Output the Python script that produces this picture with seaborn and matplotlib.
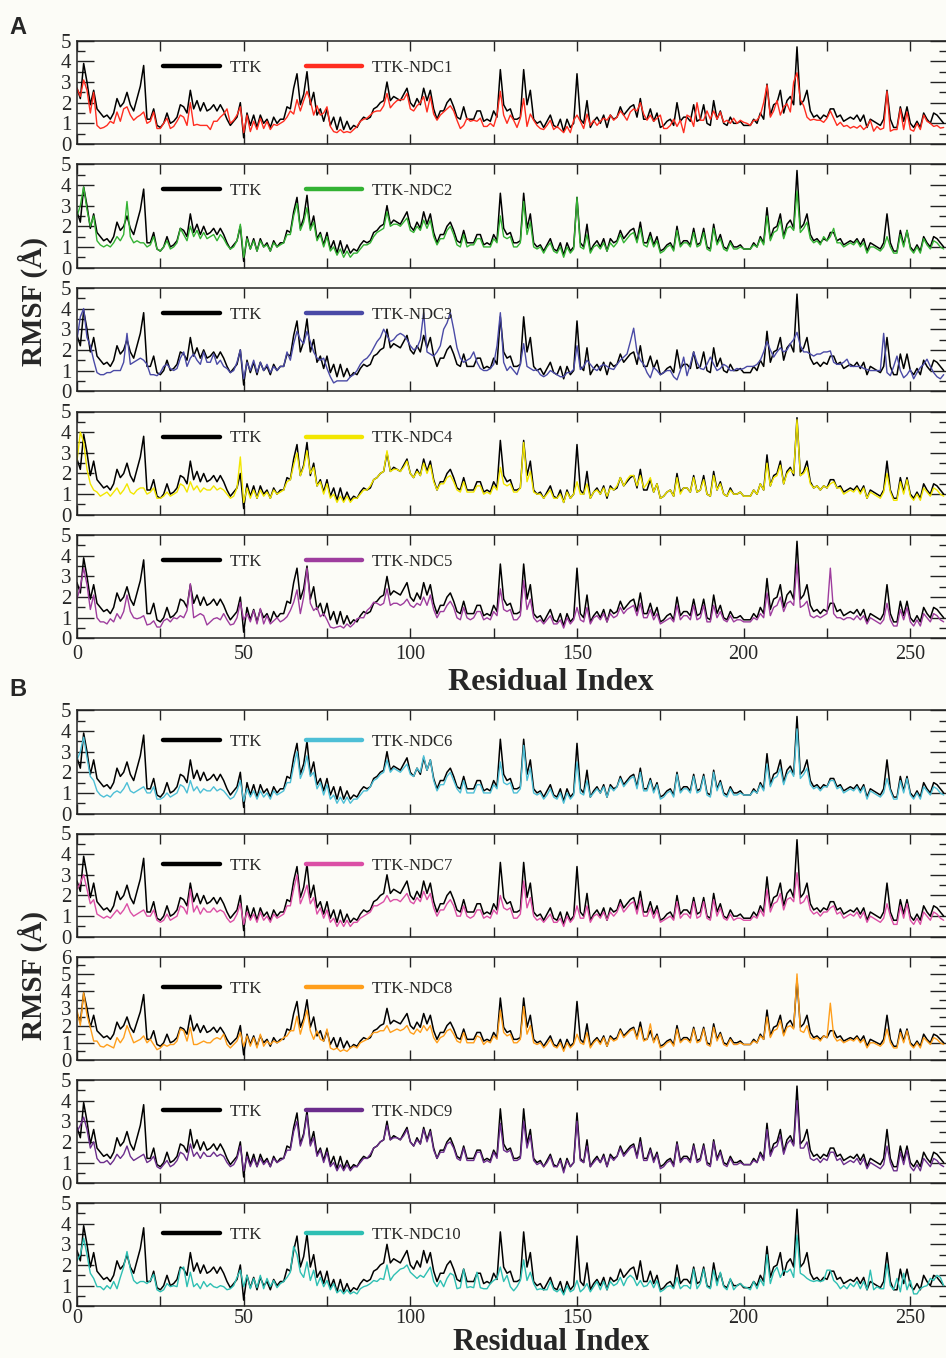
import numpy as np
import matplotlib
matplotlib.use('Agg')
import matplotlib.pyplot as plt
from matplotlib.ticker import MultipleLocator
from matplotlib.lines import Line2D
import seaborn as sns

# RMSF (Angstrom) per residue
ttk = [
    2.7, 2.2, 3.9, 3.0, 1.9, 2.6, 1.7, 1.5, 1.3, 1.4,
    1.2, 1.5, 2.2, 1.8, 2.0, 2.5, 1.9, 1.6, 2.2, 2.8,
    3.8, 1.2, 1.2, 1.7, 0.9, 0.8, 1.0, 1.5, 1.0, 1.1,
    1.3, 1.9, 1.8, 1.5, 2.6, 1.7, 2.1, 1.6, 2.0, 1.6,
    1.7, 1.9, 1.6, 1.9, 1.6, 1.2, 0.9, 1.1, 1.3, 2.0,
    0.3, 1.5, 0.9, 1.4, 0.8, 1.4, 1.0, 1.2, 0.8, 1.3,
    1.0, 1.2, 1.2, 1.8, 1.7, 2.7, 3.4, 1.9, 2.4, 3.5,
    1.9, 2.5, 1.4, 1.7, 1.1, 1.7, 0.9, 1.3, 0.7, 1.3,
    0.7, 1.1, 0.7, 0.9, 0.8, 1.1, 1.3, 1.2, 1.3, 1.7,
    1.8, 2.0, 2.1, 3.0, 2.1, 2.3, 2.2, 2.1, 2.4, 2.7,
    2.0, 1.8, 2.2, 1.9, 2.7, 2.1, 2.6, 1.7, 1.2, 1.6,
    1.6, 2.0, 2.2, 1.8, 1.3, 1.2, 1.8, 1.2, 1.2, 1.2,
    1.6, 1.6, 1.1, 1.2, 1.1, 1.6, 1.3, 3.6, 1.9, 1.6,
    1.7, 1.2, 1.2, 1.3, 3.6, 1.9, 2.6, 1.2, 1.0, 1.1,
    0.8, 1.1, 1.4, 0.9, 0.8, 1.2, 0.6, 1.2, 0.8, 1.0,
    3.4, 1.2, 1.0, 2.1, 0.8, 1.1, 1.3, 1.0, 1.4, 0.8,
    1.4, 1.2, 1.3, 1.8, 1.4, 1.6, 1.8, 1.9, 1.3, 2.2,
    1.2, 1.2, 1.7, 1.1, 1.5, 0.8, 0.9, 1.1, 1.2, 0.9,
    2.0, 1.1, 1.3, 1.3, 1.1, 1.9, 1.1, 1.2, 1.9, 1.0,
    0.9, 2.1, 1.2, 1.6, 1.0, 0.9, 1.3, 1.0, 1.0, 1.1,
    0.9, 0.9, 0.9, 1.2, 1.0, 1.5, 1.2, 2.9, 1.4, 1.9,
    2.0, 2.6, 1.5, 2.1, 2.3, 1.9, 4.7, 1.9, 2.1, 2.6,
    1.6, 1.3, 1.4, 1.2, 1.4, 1.3, 1.7, 1.7, 1.3, 1.4,
    1.1, 1.2, 1.3, 1.2, 1.4, 1.1, 1.4, 0.8, 1.2, 1.1,
    1.0, 0.9, 1.2, 2.6, 1.2, 0.8, 0.8, 1.8, 1.1, 1.8,
    1.0, 0.8, 1.1, 0.8, 1.5, 1.2, 1.0, 1.5, 1.4, 1.2, 1.0,
]

ndc1 = [
    2.7, 2.3, 3.1, 2.6, 1.5, 2.5, 0.9, 0.75, 0.8, 0.9,
    1.1, 1.0, 1.55, 1.1, 1.7, 1.8, 1.4, 1.15, 1.3, 1.4,
    1.55, 1.0, 1.1, 1.55, 0.75, 0.75, 1.0, 1.25, 0.75, 0.85,
    1.1, 1.4, 1.3, 0.9, 2.0, 0.9, 0.95, 0.9, 0.9, 0.9,
    0.7, 1.1, 1.1, 1.3, 1.45, 1.7, 1.0, 1.15, 1.4, 1.8,
    0.55, 1.4, 0.6, 1.1, 0.7, 1.25, 0.75, 1.1, 0.7, 0.95,
    0.9, 1.0, 1.1, 1.3, 1.6, 1.45, 2.15, 1.6, 2.1, 2.55,
    2.1, 1.4, 1.85, 1.4, 1.5, 1.8, 0.85, 0.6, 0.55, 0.7,
    0.55, 0.6, 0.55, 0.7, 0.85, 1.1, 1.2, 1.25, 1.4, 1.55,
    1.6, 1.6, 1.85, 2.45, 1.75, 1.95, 2.1, 2.15, 2.15, 2.45,
    1.7, 1.6, 1.85, 2.0, 2.3, 1.55, 2.3, 1.45, 1.15, 1.4,
    1.55, 1.7, 1.85, 1.6, 1.15, 0.75, 0.9, 1.25, 1.1, 1.15,
    1.1, 1.25, 0.85, 0.85, 1.0, 0.85, 1.4, 2.55, 1.4, 1.0,
    1.4, 1.15, 0.8, 1.25, 2.2, 0.85, 1.45, 1.15, 0.9, 0.75,
    0.7, 0.9, 1.15, 0.7, 0.85, 0.7, 0.55, 0.85, 0.55, 1.15,
    1.4, 1.1, 0.75, 1.45, 0.9, 1.15, 0.9, 1.1, 1.25, 1.15,
    1.4, 1.15, 1.3, 1.6, 1.4, 1.15, 1.55, 1.7, 1.6, 2.0,
    1.45, 1.15, 1.4, 1.1, 1.25, 1.4, 0.75, 0.75, 0.9, 1.2,
    0.85, 1.15, 0.55, 1.4, 1.3, 0.85, 2.0, 1.15, 1.15, 1.6,
    1.2, 1.6, 1.2, 1.55, 1.05, 1.15, 1.0, 1.25, 1.0, 1.15,
    1.05, 1.0, 0.9, 1.15, 1.15, 1.4, 2.0, 2.85, 1.3, 1.6,
    2.1, 1.4, 1.8, 1.95, 1.55, 3.0, 3.45, 2.15, 1.85, 1.3,
    1.15, 1.2, 1.15, 1.15, 1.05, 1.25, 1.6, 1.25, 0.9, 1.05,
    0.85, 0.9, 0.77, 0.85, 0.77, 0.9, 0.7, 0.85, 1.15, 0.62,
    0.85, 0.7, 0.77, 2.55, 0.62, 0.7, 0.7, 1.7, 0.7, 1.55,
    0.7, 0.62, 1.0, 0.7, 1.4, 1.1, 1.0, 0.85, 0.9, 0.77, 0.8,
]

ndc2 = [
    2.5, 3.0, 3.9, 2.8, 2.0, 2.5, 1.3, 1.1, 1.0, 1.1,
    1.0, 1.2, 1.5, 1.3, 1.6, 3.2, 1.5, 1.2, 1.3, 1.2,
    1.2, 1.0, 1.1, 1.5, 0.9, 0.8, 1.0, 1.3, 0.9, 1.0,
    1.2, 1.9, 1.6, 1.3, 2.0, 1.5, 1.8, 1.4, 1.7, 1.4,
    1.5, 1.6, 1.3, 1.6, 1.4, 1.1, 0.9, 1.0, 1.3, 2.1,
    0.5, 1.4, 0.9, 1.3, 0.8, 1.3, 1.0, 1.1, 0.8, 1.2,
    1.0, 1.1, 1.2, 1.6, 1.6, 2.5, 3.1, 1.8, 2.2, 2.9,
    1.8, 2.2, 1.3, 1.6, 1.0, 1.5, 0.8, 1.0, 0.6, 0.9,
    0.5, 0.8, 0.5, 0.7, 0.7, 0.9, 1.1, 1.1, 1.2, 1.5,
    1.7, 1.8, 1.9, 2.7, 2.0, 2.1, 2.1, 2.0, 2.2, 2.4,
    1.8, 1.7, 2.0, 1.8, 2.3, 1.9, 2.3, 1.5, 1.1, 1.4,
    1.4, 1.8, 2.0, 1.6, 1.1, 1.0, 1.6, 1.0, 1.1, 1.1,
    1.4, 1.4, 1.0, 1.0, 1.0, 1.4, 1.2, 2.5, 1.5, 1.4,
    1.5, 1.0, 1.0, 1.2, 3.2, 1.6, 2.2, 1.0, 0.9, 1.0,
    0.7, 1.0, 1.2, 0.8, 0.7, 1.0, 0.5, 1.0, 0.7, 0.9,
    3.4, 1.0, 0.9, 1.6, 0.7, 1.0, 1.1, 0.9, 1.2, 0.8,
    1.2, 1.0, 1.2, 1.6, 1.2, 1.4, 1.6, 1.7, 1.2, 1.9,
    1.1, 1.0, 1.5, 1.0, 1.3, 0.7, 0.8, 1.0, 1.1, 0.8,
    1.8, 1.0, 1.2, 1.2, 1.0, 1.7, 1.0, 1.1, 1.7, 0.9,
    0.8, 1.9, 1.1, 1.4, 0.9, 0.8, 1.2, 0.9, 0.9, 1.0,
    0.9, 0.9, 0.9, 1.1, 1.0, 1.4, 1.1, 2.5, 1.3, 1.7,
    1.8, 2.3, 1.4, 1.9, 2.0, 1.8, 3.7, 1.7, 1.9, 2.2,
    1.4, 1.2, 1.3, 1.1, 1.5, 1.3, 1.5, 1.9, 1.2, 1.2,
    1.0, 1.1, 1.2, 1.1, 1.3, 1.0, 1.2, 0.7, 1.0, 1.0,
    0.9, 0.8, 1.0, 1.5, 1.0, 0.7, 0.7, 1.6, 1.0, 1.8,
    0.9, 0.7, 1.0, 0.7, 1.4, 1.1, 0.9, 1.3, 1.2, 1.0, 0.9,
]

ndc3 = [
    2.5, 3.6, 4.0, 2.6, 2.2, 1.5, 0.9, 0.8, 0.8, 0.9,
    0.9, 1.0, 1.0, 1.0, 1.4, 2.8, 1.3, 1.4, 1.5, 1.6,
    1.5, 1.3, 0.8, 0.8, 0.75, 0.9, 1.2, 1.3, 1.1, 1.0,
    1.1, 1.6, 1.9, 1.2, 1.6, 1.8, 1.5, 1.3, 1.9, 1.4,
    1.4, 1.8, 1.3, 1.5, 1.2, 1.1, 0.9, 1.0, 1.4, 2.0,
    0.6, 1.4, 1.0, 1.5, 0.9, 1.4, 1.0, 1.3, 0.9, 1.2,
    1.0, 1.2, 1.2, 1.9, 1.5, 2.3, 2.9, 2.5, 2.3, 2.9,
    2.4, 1.9, 1.6, 1.5, 1.6, 1.1, 0.7, 0.4, 0.5, 0.5,
    0.5, 0.5, 0.7, 0.8, 1.0, 1.3, 1.5, 1.6, 1.8, 2.1,
    2.4, 2.6, 3.0, 2.7, 2.4, 2.5, 2.7, 2.8, 2.7, 2.5,
    2.2, 2.0, 2.1, 2.5, 3.8, 1.9, 1.8, 1.7, 1.9, 2.2,
    3.0, 3.3, 3.8, 3.0, 2.1, 1.6, 1.4, 1.5, 1.6, 1.9,
    1.4, 1.1, 1.0, 1.0, 1.1, 1.3, 2.2, 3.8, 1.4, 1.0,
    1.2, 1.0, 0.8, 1.3, 2.3, 1.2, 1.1, 1.0, 1.05, 0.8,
    0.7, 0.8, 1.0, 0.9, 0.8, 0.7, 0.7, 0.9, 0.9, 1.05,
    2.2, 1.05, 1.2, 1.5, 1.3, 1.1, 1.0, 1.2, 1.3, 1.2,
    1.1, 1.05, 1.3, 1.5, 1.65, 1.8, 2.4, 3.05, 1.9, 1.5,
    1.3, 0.9, 0.65, 1.15, 1.0, 0.8, 0.9, 1.0, 1.0, 0.7,
    0.55, 1.0, 1.65, 0.75, 1.3, 1.9, 1.4, 1.1, 1.05, 1.3,
    1.65, 1.3, 1.0, 1.1, 1.3, 1.2, 1.0, 1.0, 1.1, 1.05,
    1.1, 1.2, 1.2, 1.2, 1.3, 1.5, 1.9, 2.4, 2.0, 1.65,
    1.9, 2.1, 1.9, 2.0, 2.3, 2.5, 2.85, 2.2, 1.9, 1.9,
    1.8, 1.7, 1.8, 1.8, 1.9, 1.9, 1.95, 1.4, 1.3, 1.3,
    1.4, 1.55, 1.2, 1.2, 1.2, 1.2, 1.1, 1.05, 1.0, 1.0,
    1.0, 1.0, 2.8, 0.9, 0.75, 1.2, 1.7, 1.0, 0.65, 0.8,
    1.05, 0.6, 0.9, 1.15, 1.3, 1.55, 1.2, 0.9, 0.7, 0.6, 0.8,
]

ndc4 = [
    2.6, 4.0, 3.5, 2.2, 1.5, 1.2, 1.1, 0.9, 1.0, 1.1,
    0.9, 1.1, 1.3, 1.0, 1.2, 1.5, 1.1, 1.0, 1.2, 1.3,
    1.3, 1.0, 1.1, 1.3, 0.8, 0.8, 0.9, 1.1, 0.9, 1.0,
    1.1, 1.5, 1.4, 1.1, 1.6, 1.2, 1.4, 1.1, 1.3, 1.2,
    1.2, 1.4, 1.2, 1.3, 1.2, 1.0, 0.8, 0.9, 1.3, 2.8,
    0.6, 1.3, 0.8, 1.2, 0.8, 1.2, 0.9, 1.1, 0.8, 1.2,
    1.0, 1.1, 1.2, 1.6, 1.7, 2.4, 3.0, 1.9, 2.3, 3.1,
    2.0, 2.3, 1.4, 1.6, 1.0, 1.5, 0.8, 1.0, 0.6, 0.9,
    0.6, 0.9, 0.6, 0.8, 0.8, 1.0, 1.2, 1.2, 1.4, 1.7,
    1.8, 2.0, 2.1, 3.1, 2.1, 2.2, 2.2, 2.1, 2.3, 2.6,
    2.0, 1.8, 2.1, 1.9, 2.5, 2.0, 2.4, 1.6, 1.2, 1.5,
    1.5, 1.8, 1.9, 1.6, 1.2, 1.1, 1.6, 1.1, 1.1, 1.1,
    1.4, 1.4, 1.0, 1.1, 1.0, 1.4, 1.2, 2.3, 1.5, 1.4,
    1.5, 1.1, 1.1, 1.3, 3.5, 1.6, 2.1, 1.1, 1.0, 1.0,
    0.8, 1.0, 1.2, 0.8, 0.8, 1.0, 0.6, 1.1, 0.8, 1.0,
    1.6, 1.0, 1.0, 1.5, 0.8, 1.1, 1.2, 1.0, 1.3, 0.9,
    1.3, 1.2, 1.4, 1.8, 1.4, 1.7, 1.9, 1.9, 1.4, 1.9,
    1.3, 1.5, 1.8, 1.1, 1.5, 0.8, 0.9, 1.1, 1.2, 0.9,
    1.8, 1.0, 1.3, 1.3, 1.1, 1.8, 1.1, 1.2, 1.7, 1.0,
    0.9, 1.9, 1.2, 1.5, 1.0, 0.9, 1.2, 1.0, 1.0, 1.1,
    0.9, 0.9, 0.9, 1.2, 1.0, 1.5, 1.2, 2.5, 1.4, 1.8,
    1.9, 2.4, 1.5, 2.0, 2.2, 2.0, 4.6, 1.9, 2.0, 2.3,
    1.5, 1.3, 1.4, 1.2, 1.4, 1.3, 1.5, 1.6, 1.3, 1.3,
    1.0, 1.1, 1.2, 1.1, 1.3, 1.0, 1.3, 0.8, 1.1, 1.0,
    0.9, 0.8, 1.1, 2.0, 1.1, 0.7, 0.7, 1.6, 1.0, 1.7,
    0.9, 0.7, 1.0, 0.7, 1.3, 1.1, 0.9, 1.3, 1.2, 1.0, 0.9,
]

ndc5 = [
    1.9, 2.5, 3.4, 2.6, 1.4, 2.1, 1.0, 0.8, 0.8, 0.7,
    0.95, 0.8, 1.2, 0.95, 1.3, 2.1, 1.3, 1.0, 0.95, 1.0,
    1.1, 0.65, 0.7, 0.85, 0.55, 0.55, 0.85, 0.95, 0.8, 1.0,
    0.95, 1.1, 1.0, 1.35, 2.65, 1.0, 1.1, 1.2, 1.1, 0.65,
    0.8, 0.95, 1.0, 0.9, 1.2, 0.9, 0.65, 0.7, 1.0, 1.75,
    0.9, 1.2, 0.8, 1.35, 0.7, 1.45, 0.7, 1.1, 0.7, 0.85,
    1.0, 0.8, 0.9, 1.05, 1.35, 1.75, 2.35, 1.2, 2.0, 3.4,
    1.7, 1.35, 1.5, 1.05, 1.2, 0.9, 0.55, 0.5, 0.55, 0.6,
    0.5, 0.7, 0.55, 0.7, 0.95, 1.0, 1.0, 1.35, 1.5, 1.75,
    1.7, 1.6, 1.7, 2.4, 1.6, 1.7, 1.7, 1.6, 1.7, 1.9,
    1.6, 1.5, 1.7, 1.6, 2.0, 1.6, 2.1, 1.4, 1.0, 1.3,
    1.3, 1.6, 1.8, 1.5, 1.0, 0.9, 1.5, 1.0, 0.9, 1.0,
    1.3, 1.3, 0.9, 1.0, 0.9, 1.3, 1.1, 2.4, 1.4, 1.3,
    1.4, 0.9, 0.9, 1.1, 2.8, 1.4, 1.9, 1.0, 0.8, 0.9,
    0.7, 0.9, 1.1, 0.7, 0.7, 0.9, 0.5, 1.0, 0.7, 0.9,
    1.5, 0.9, 0.8, 1.5, 0.7, 1.0, 1.1, 0.9, 1.2, 0.8,
    1.2, 1.0, 1.1, 1.5, 1.2, 1.4, 1.5, 1.6, 1.1, 1.7,
    1.0, 1.0, 1.4, 0.9, 1.2, 0.7, 0.8, 0.9, 1.0, 0.8,
    1.6, 0.9, 1.1, 1.1, 0.9, 1.6, 0.9, 1.0, 1.6, 0.8,
    0.8, 1.6, 1.0, 1.3, 0.9, 0.8, 1.1, 0.8, 0.9, 0.9,
    0.8, 0.8, 0.8, 1.0, 0.9, 1.2, 1.0, 2.2, 1.1, 1.5,
    1.6, 2.0, 1.3, 1.7, 1.8, 1.6, 3.6, 1.5, 1.6, 1.8,
    1.1, 1.0, 1.1, 1.0, 1.1, 1.2, 3.4, 1.2, 1.0, 1.0,
    0.9, 1.0, 1.0, 0.9, 1.1, 0.9, 1.1, 0.7, 1.0, 0.9,
    0.8, 0.7, 0.9, 1.7, 0.9, 0.6, 0.6, 1.4, 0.9, 1.5,
    0.8, 0.6, 0.9, 0.6, 1.2, 1.0, 0.8, 1.2, 1.1, 0.9, 0.8,
]

ndc6 = [
    2.6, 3.0, 3.7, 2.7, 1.8, 1.6, 1.1, 0.9, 0.8, 0.9,
    0.8, 1.0, 1.1, 1.0, 1.2, 1.5, 1.1, 1.0, 1.1, 1.2,
    1.3, 1.0, 1.0, 1.3, 0.7, 0.7, 0.8, 1.0, 0.8, 0.9,
    1.0, 1.4, 1.3, 1.0, 1.6, 1.1, 1.3, 1.0, 1.2, 1.1,
    1.1, 1.3, 1.1, 1.2, 1.1, 0.9, 0.7, 0.8, 1.1, 1.6,
    0.6, 1.2, 0.8, 1.1, 0.7, 1.1, 0.8, 1.0, 0.7, 1.1,
    0.9, 1.0, 1.1, 1.5, 1.5, 2.3, 3.0, 1.7, 2.1, 2.8,
    1.8, 2.0, 1.2, 1.5, 0.9, 1.4, 0.7, 0.9, 0.5, 0.8,
    0.5, 0.8, 0.5, 0.7, 0.7, 0.9, 1.1, 1.1, 1.3, 1.6,
    1.7, 1.9, 2.0, 2.6, 2.0, 2.2, 2.1, 2.0, 2.2, 2.4,
    1.9, 1.8, 2.2, 2.0, 2.8, 2.1, 2.6, 1.6, 1.1, 1.4,
    1.4, 1.8, 2.0, 1.6, 1.2, 1.0, 1.6, 1.0, 1.0, 1.0,
    1.4, 1.4, 1.0, 1.0, 1.0, 1.4, 1.2, 2.5, 1.5, 1.4,
    1.5, 1.0, 1.0, 1.2, 3.3, 1.6, 2.2, 1.0, 0.9, 1.0,
    0.7, 0.9, 1.2, 0.8, 0.7, 1.0, 0.5, 1.0, 0.7, 0.9,
    2.5, 1.0, 0.9, 1.6, 0.8, 1.0, 1.2, 1.0, 1.3, 0.8,
    1.3, 1.1, 1.3, 1.7, 1.3, 1.5, 1.7, 1.8, 1.2, 2.0,
    1.1, 1.1, 1.6, 1.0, 1.4, 0.7, 0.8, 1.0, 1.1, 0.8,
    1.9, 1.0, 1.2, 1.2, 1.0, 1.8, 1.0, 1.1, 1.8, 0.9,
    0.8, 2.0, 1.1, 1.5, 0.9, 0.8, 1.2, 0.9, 0.9, 1.0,
    0.9, 0.9, 0.9, 1.1, 1.0, 1.4, 1.1, 2.4, 1.3, 1.7,
    1.8, 2.2, 1.4, 1.9, 2.1, 1.8, 4.1, 1.7, 1.9, 2.2,
    1.4, 1.2, 1.3, 1.1, 1.3, 1.3, 1.6, 1.6, 1.2, 1.3,
    1.0, 1.1, 1.2, 1.1, 1.3, 1.0, 1.3, 0.7, 1.1, 1.0,
    0.9, 0.8, 1.0, 1.7, 1.1, 0.7, 0.7, 1.6, 1.0, 1.7,
    0.9, 0.7, 1.0, 0.7, 1.3, 1.1, 0.9, 1.3, 1.2, 1.0, 0.9,
]

ndc7 = [
    2.3, 2.6, 3.0, 2.3, 1.6, 1.8, 1.1, 1.0, 0.9, 1.0,
    0.9, 1.1, 1.3, 1.1, 1.3, 1.6, 1.2, 1.0, 1.1, 1.2,
    1.3, 1.0, 1.0, 1.3, 0.8, 0.7, 0.8, 1.1, 0.8, 0.9,
    1.0, 1.5, 1.4, 1.1, 2.3, 1.2, 1.5, 1.1, 1.4, 1.2,
    1.2, 1.4, 1.2, 1.3, 1.2, 0.9, 0.7, 0.8, 1.1, 1.6,
    0.6, 1.2, 0.8, 1.1, 0.7, 1.2, 0.8, 1.0, 0.7, 1.1,
    0.9, 1.0, 1.1, 1.5, 1.5, 2.3, 3.0, 1.6, 2.0, 2.5,
    1.6, 1.9, 1.1, 1.4, 0.9, 1.3, 0.7, 0.9, 0.5, 0.8,
    0.5, 0.8, 0.5, 0.7, 0.7, 0.9, 1.0, 1.1, 1.2, 1.5,
    1.5, 1.6, 1.7, 2.0, 1.7, 1.8, 1.8, 1.7, 1.9, 2.1,
    1.7, 1.6, 1.9, 1.7, 2.2, 1.8, 2.1, 1.4, 1.0, 1.3,
    1.3, 1.6, 1.8, 1.5, 1.0, 1.0, 1.5, 1.0, 0.9, 1.0,
    1.3, 1.3, 0.9, 1.0, 0.9, 1.3, 1.1, 2.0, 1.4, 1.3,
    1.4, 0.9, 0.9, 1.1, 2.7, 1.4, 1.9, 1.0, 0.8, 0.9,
    0.7, 0.9, 1.1, 0.7, 0.7, 0.9, 0.5, 1.0, 0.7, 0.9,
    1.5, 0.9, 0.9, 1.5, 0.7, 1.0, 1.1, 0.9, 1.2, 0.8,
    1.2, 1.0, 1.2, 1.6, 1.2, 1.4, 1.6, 1.7, 1.1, 1.8,
    1.0, 1.0, 1.4, 0.9, 1.3, 0.7, 0.8, 0.9, 1.0, 0.8,
    1.7, 0.9, 1.1, 1.1, 0.9, 1.7, 0.9, 1.0, 1.7, 0.9,
    0.8, 1.8, 1.0, 1.4, 0.9, 0.8, 1.1, 0.8, 0.9, 0.9,
    0.8, 0.8, 0.8, 1.0, 0.9, 1.3, 1.0, 2.3, 1.2, 1.6,
    1.7, 2.1, 1.3, 1.8, 1.9, 1.7, 3.1, 1.6, 1.7, 2.0,
    1.3, 1.1, 1.2, 1.0, 1.2, 1.2, 1.4, 1.5, 1.1, 1.2,
    0.9, 1.0, 1.1, 1.0, 1.2, 0.9, 1.2, 0.7, 1.0, 0.9,
    0.8, 0.7, 0.9, 1.6, 1.0, 0.6, 0.6, 1.5, 0.9, 1.6,
    0.8, 0.6, 0.9, 0.6, 1.2, 1.0, 0.8, 1.2, 1.1, 0.9, 0.8,
]

ndc8 = [
    2.9, 2.0, 3.9, 2.6, 1.9, 1.1, 1.1, 0.8, 0.75, 0.9,
    0.8, 0.7, 1.3, 1.0, 1.3, 2.0, 1.5, 1.0, 1.1, 1.2,
    1.4, 1.0, 1.2, 0.9, 0.6, 0.7, 0.9, 0.8, 0.9, 0.9,
    1.1, 1.8, 1.7, 1.1, 1.9, 0.9, 0.9, 1.0, 1.1, 1.0,
    1.0, 1.2, 1.3, 1.2, 1.5, 0.9, 0.7, 0.9, 1.1, 1.6,
    0.8, 1.4, 0.8, 1.3, 0.7, 1.5, 0.8, 1.1, 0.9, 1.1,
    1.0, 1.1, 1.3, 1.4, 1.7, 1.7, 2.55, 1.5, 2.2, 2.9,
    1.7, 1.2, 1.7, 1.2, 1.1, 1.8, 0.7, 0.6, 0.7, 0.5,
    0.6, 0.5, 0.7, 0.8, 0.7, 1.0, 1.1, 1.2, 1.4, 1.6,
    1.6, 1.7, 1.7, 2.0, 1.6, 1.7, 1.8, 1.7, 1.8, 2.0,
    1.6, 1.5, 1.8, 1.6, 2.0, 1.7, 2.0, 1.3, 1.0, 1.3,
    1.4, 1.7, 1.8, 1.5, 1.1, 1.0, 1.6, 1.0, 1.0, 1.0,
    1.4, 1.3, 0.9, 1.1, 1.0, 1.4, 1.2, 2.9, 1.6, 1.4,
    1.5, 1.0, 1.0, 1.2, 3.1, 1.5, 2.0, 1.0, 0.9, 1.0,
    0.7, 0.9, 1.2, 0.8, 0.7, 1.0, 0.5, 1.0, 0.7, 0.9,
    1.5, 1.0, 0.9, 1.6, 0.7, 1.0, 1.2, 0.9, 1.3, 0.8,
    1.3, 1.1, 1.2, 1.7, 1.3, 1.5, 1.7, 1.8, 1.2, 1.9,
    1.1, 1.2, 2.1, 1.0, 1.4, 0.7, 0.8, 1.0, 1.1, 0.8,
    1.8, 1.0, 1.2, 1.2, 1.0, 1.8, 1.0, 1.1, 1.8, 0.9,
    0.8, 1.9, 1.1, 1.5, 0.9, 0.8, 1.2, 0.9, 0.9, 1.0,
    0.9, 0.9, 0.9, 1.1, 1.0, 1.4, 1.2, 2.5, 1.3, 1.7,
    1.8, 2.3, 1.4, 1.9, 2.0, 1.8, 5.0, 1.7, 1.6, 2.0,
    1.3, 1.2, 1.3, 1.1, 1.4, 1.3, 3.3, 1.4, 1.1, 1.2,
    1.0, 1.1, 1.2, 1.1, 1.3, 1.0, 1.2, 0.7, 1.0, 1.0,
    0.9, 0.8, 1.0, 1.8, 1.0, 0.7, 0.7, 1.6, 1.0, 1.7,
    0.9, 0.7, 1.0, 0.7, 1.3, 1.1, 0.9, 1.3, 1.2, 1.0, 0.9,
]

ndc9 = [
    2.5, 2.8, 3.2, 2.6, 1.7, 2.0, 1.2, 1.0, 1.0, 1.1,
    0.9, 1.1, 1.4, 1.2, 1.4, 1.8, 1.3, 1.1, 1.2, 1.3,
    1.4, 1.0, 1.1, 1.3, 0.8, 0.7, 0.9, 1.1, 0.8, 0.9,
    1.1, 1.5, 1.4, 1.1, 1.9, 1.3, 1.5, 1.2, 1.5, 1.3,
    1.3, 1.5, 1.3, 1.4, 1.3, 1.0, 0.8, 0.9, 1.2, 1.8,
    0.6, 1.3, 0.8, 1.2, 0.8, 1.2, 0.9, 1.1, 0.8, 1.2,
    1.0, 1.1, 1.2, 1.6, 1.6, 2.5, 3.0, 1.8, 2.3, 3.3,
    1.8, 2.2, 1.3, 1.6, 1.0, 1.5, 0.8, 1.0, 0.6, 0.9,
    0.6, 0.9, 0.6, 0.8, 0.8, 1.0, 1.2, 1.2, 1.4, 1.7,
    1.8, 2.0, 2.1, 2.8, 2.1, 2.2, 2.2, 2.1, 2.3, 2.6,
    2.0, 1.8, 2.1, 1.9, 2.6, 2.0, 2.5, 1.6, 1.2, 1.5,
    1.5, 1.9, 2.0, 1.7, 1.2, 1.1, 1.7, 1.1, 1.1, 1.1,
    1.5, 1.5, 1.0, 1.1, 1.0, 1.5, 1.2, 2.9, 1.6, 1.5,
    1.6, 1.1, 1.1, 1.2, 3.0, 1.7, 2.3, 1.1, 0.9, 1.0,
    0.8, 1.0, 1.3, 0.8, 0.8, 1.1, 0.5, 1.1, 0.8, 1.0,
    3.0, 1.1, 1.0, 1.8, 0.8, 1.0, 1.2, 1.0, 1.3, 0.8,
    1.3, 1.1, 1.3, 1.7, 1.3, 1.5, 1.7, 1.8, 1.2, 2.0,
    1.1, 1.1, 1.6, 1.0, 1.4, 0.7, 0.8, 1.0, 1.1, 0.8,
    1.9, 1.0, 1.2, 1.2, 1.0, 1.8, 1.0, 1.1, 1.8, 0.9,
    0.8, 2.0, 1.1, 1.5, 0.9, 0.8, 1.2, 0.9, 0.9, 1.0,
    0.9, 0.9, 0.9, 1.1, 1.0, 1.4, 1.1, 2.6, 1.3, 1.7,
    1.8, 2.3, 1.4, 1.9, 2.1, 1.8, 4.0, 1.7, 1.7, 2.0,
    1.2, 1.1, 1.2, 1.0, 1.2, 1.1, 1.5, 1.5, 1.1, 1.2,
    0.9, 1.0, 1.1, 1.0, 1.2, 0.9, 1.2, 0.7, 1.0, 0.9,
    0.8, 0.7, 0.9, 1.8, 1.0, 0.6, 0.6, 1.5, 0.9, 1.6,
    0.8, 0.6, 0.9, 0.6, 1.2, 1.0, 0.8, 1.2, 1.1, 0.9, 0.8,
]

ndc10 = [
    2.2, 2.5, 3.3, 2.5, 1.6, 1.35, 0.95, 0.95, 0.8, 1.0,
    0.85, 1.2, 0.85, 1.4, 1.9, 2.65, 1.8, 1.25, 1.1, 1.2,
    1.2, 1.1, 1.25, 1.55, 0.8, 0.7, 0.8, 1.1, 0.95, 1.0,
    0.95, 1.8, 1.9, 0.95, 1.65, 0.95, 1.1, 0.85, 1.2, 0.95,
    1.1, 0.95, 0.9, 1.0, 0.95, 0.8, 0.85, 1.0, 1.4, 1.75,
    0.95, 1.5, 0.85, 1.35, 0.9, 1.5, 0.85, 1.35, 0.95, 1.25,
    0.9, 1.1, 1.2, 1.4, 1.65, 2.9, 2.5, 1.65, 1.4, 2.15,
    1.25, 1.75, 1.0, 1.4, 0.95, 1.25, 0.8, 1.1, 0.65, 0.8,
    0.6, 0.8, 0.6, 0.7, 0.6, 0.85, 0.95, 1.0, 1.1, 1.25,
    1.2, 1.35, 1.3, 2.0, 1.25, 1.5, 1.65, 1.8, 1.85, 2.0,
    1.65, 1.5, 1.35, 1.5, 1.4, 1.65, 1.9, 1.2, 0.95, 1.25,
    0.95, 1.35, 1.6, 1.5, 0.85, 0.9, 1.8, 0.9, 0.95, 0.9,
    1.65, 0.9, 0.85, 0.85, 1.1, 1.25, 1.35, 1.9, 1.2, 1.5,
    0.95, 0.75, 0.95, 1.25, 2.25, 1.25, 1.65, 1.1, 0.8, 0.85,
    0.8, 0.8, 1.2, 0.8, 0.7, 0.85, 0.55, 1.0, 0.7, 0.8,
    1.25, 0.7, 0.85, 1.1, 0.7, 0.95, 1.2, 0.8, 1.2, 0.8,
    1.2, 1.0, 1.1, 1.4, 1.0, 1.35, 1.5, 1.35, 1.0, 1.25,
    0.95, 1.0, 1.25, 0.9, 1.25, 0.7, 0.8, 0.95, 1.0, 0.85,
    1.4, 0.85, 1.0, 1.0, 0.85, 1.8, 0.85, 1.1, 1.8, 0.95,
    0.85, 1.75, 1.0, 1.65, 0.95, 0.8, 1.35, 0.8, 1.0, 1.1,
    0.95, 0.9, 0.8, 1.2, 0.85, 1.3, 1.0, 2.5, 1.1, 1.65,
    1.9, 1.4, 1.75, 1.65, 1.8, 1.4, 3.45, 1.6, 1.5, 1.35,
    1.25, 1.2, 1.25, 1.2, 1.25, 1.75, 1.75, 1.25, 1.1, 0.85,
    1.0, 0.85, 1.1, 0.95, 1.2, 0.85, 1.2, 0.8, 1.75, 0.8,
    0.95, 0.85, 0.85, 2.05, 1.0, 0.8, 1.35, 0.7, 1.6, 0.8,
    1.25, 0.6, 0.6, 0.85, 0.95, 1.0, 1.35, 1.25, 1.5, 1.4, 1.0,
]

variants = [ndc1, ndc2, ndc3, ndc4, ndc5, ndc6, ndc7, ndc8, ndc9, ndc10]
variant_names = ['TTK-NDC1', 'TTK-NDC2', 'TTK-NDC3', 'TTK-NDC4', 'TTK-NDC5',
                 'TTK-NDC6', 'TTK-NDC7', 'TTK-NDC8', 'TTK-NDC9', 'TTK-NDC10']
variant_colors = ['#FF2D20', '#33B233', '#4A4AA6', '#F2E600', '#9E3D9E',
                  '#4DBFD6', '#DB4FA6', '#FF9E1B', '#6B2D8C', '#2EBFB3']
panel_ymax = [5, 5, 5, 5, 5, 5, 5, 6, 5, 5]
x_ticks = [0, 50, 100, 150, 200, 250]

residues = np.arange(len(ttk))

sns.set_theme(style='ticks')
plt.rcParams['font.family'] = ['Liberation Serif', 'DejaVu Serif']

W, H = 946, 1358
bg = '#FCFCF7'
fig = plt.figure(figsize=(W / 100, H / 100), dpi=100, facecolor=bg)

# panel top edges in pixels, all panels 103 px high
tops = [40.7, 164.3, 287.9, 411.5, 535.1, 710.3, 833.5, 956.7, 1079.9, 1203.0]
ph = 103.3
left_px, right_px = 77, 947

for i in range(10):
    ax = fig.add_axes([left_px / W, 1 - (tops[i] + ph) / H,
                       (right_px - left_px) / W, ph / H])
    ax.set_facecolor(bg)
    sns.lineplot(x=residues, y=ttk, ax=ax, color='black', lw=1.1)
    sns.lineplot(x=residues, y=variants[i], ax=ax, color=variant_colors[i], lw=1.0)
    ax.set_xlim(0, 261)
    ax.set_ylim(0, panel_ymax[i])
    ax.set_xticks(x_ticks)
    ax.xaxis.set_minor_locator(MultipleLocator(25))
    ax.yaxis.set_major_locator(MultipleLocator(1))
    ax.yaxis.set_minor_locator(MultipleLocator(0.5))
    ax.set_xlabel('')
    ax.set_ylabel('')
    for s in ax.spines.values():
        s.set_linewidth(1.1)
        s.set_color('#222222')
    ax.tick_params(axis='both', which='both', direction='in', top=True, right=True,
                   width=1.0, color='#222222')
    ax.tick_params(axis='y', which='major', length=12, labelsize=15, pad=4)
    ax.tick_params(axis='y', which='minor', length=6)
    ax.tick_params(axis='x', which='both', length=7, labelsize=14.5,
                   pad=5 if i == 4 else 2)
    if i not in (4, 9):
        ax.tick_params(axis='x', labelbottom=False)

    leg_y = 0.74 if i < 5 else 0.69
    handles = [Line2D([], [], color='black', lw=3.2),
               Line2D([], [], color=variant_colors[i], lw=3.2)]
    ax.legend(handles, ['TTK', variant_names[i]], loc='center left',
              bbox_to_anchor=(0.099, leg_y), ncol=2, frameon=False, fontsize=12,
              handlelength=3.4, handletextpad=0.6, columnspacing=2.6,
              borderpad=0, borderaxespad=0)

# axis titles and panel letters
fig.text(551 / W, 1 - 682 / H, 'Residual Index', ha='center', va='center',
         fontsize=23, fontweight='bold')
fig.text(551 / W, 1 - 1343 / H, 'Residual Index', ha='center', va='center',
         fontsize=22, fontweight='bold')
for y_px in (302, 975):
    fig.text(33 / W, 1 - y_px / H, 'RMSF (Å)', ha='center', va='center',
             rotation=90, fontsize=21, fontweight='bold')
fig.text(18 / W, 1 - 28 / H, 'A', ha='center', va='center', fontsize=17,
         fontweight='bold', family=['Liberation Sans', 'DejaVu Sans'])
fig.text(18 / W, 1 - 690 / H, 'B', ha='center', va='center', fontsize=17,
         fontweight='bold', family=['Liberation Sans', 'DejaVu Sans'])

fig.savefig('out.png', dpi=100, facecolor=bg)
